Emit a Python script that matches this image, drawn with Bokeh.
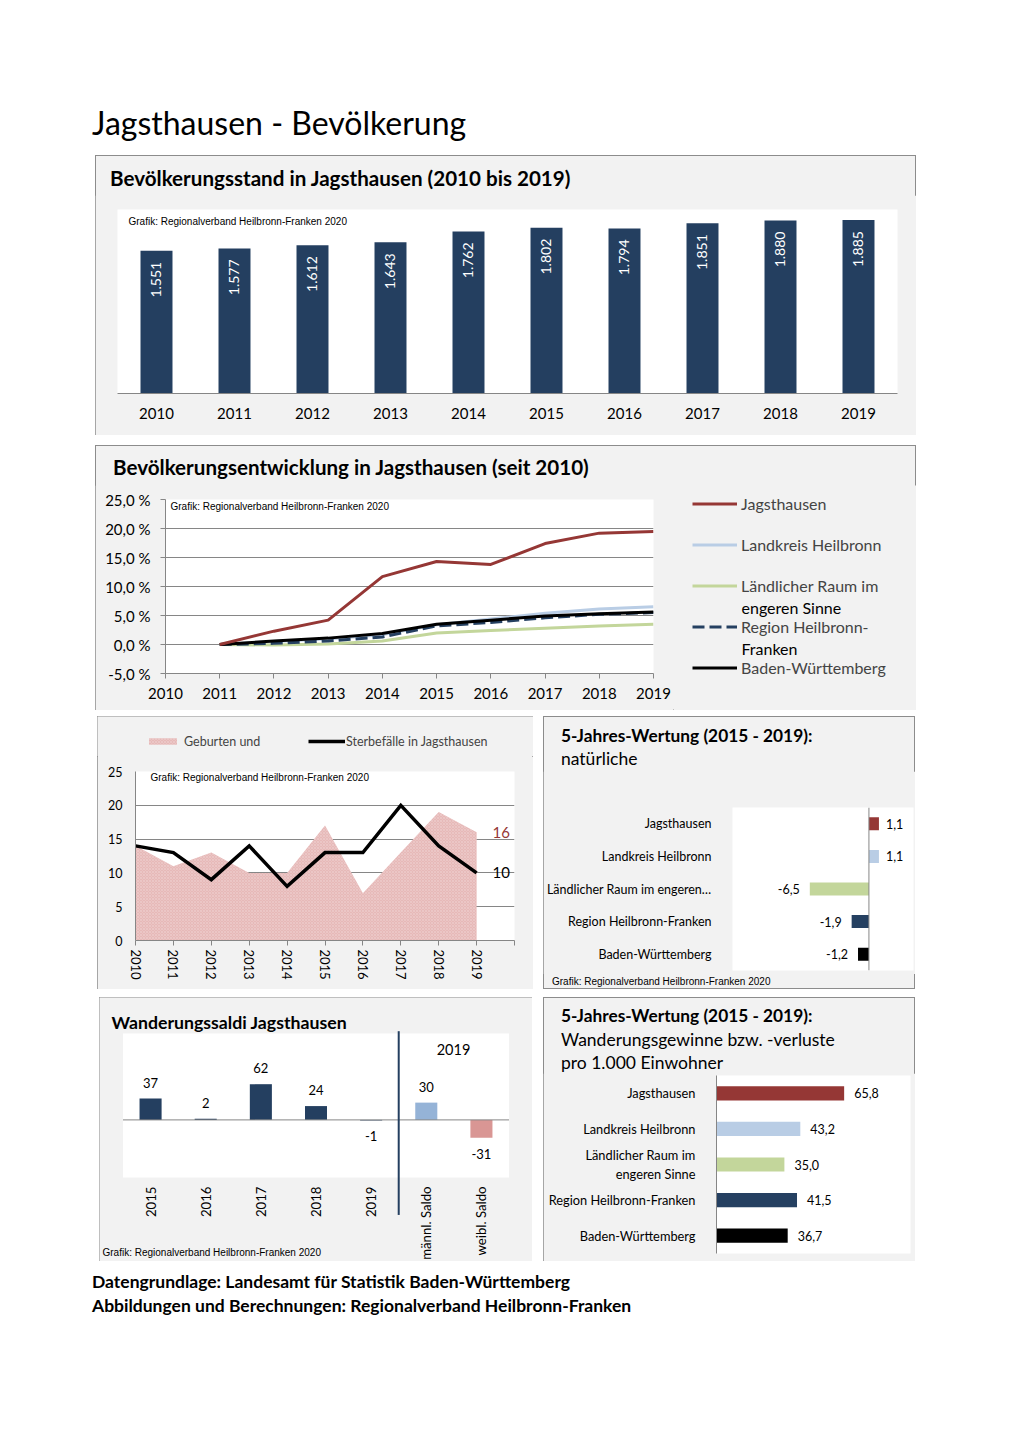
import math
from bokeh.plotting import figure
from bokeh.models import (ColumnDataSource, Label, LabelSet, Legend, LegendItem, BoxAnnotation,
                          FixedTicker, Range1d, FactorRange, Div, Spacer, Arrow, CategoricalAxis,
                          Span)
from bokeh.layouts import column, row
from bokeh.embed import file_html
from bokeh.resources import INLINE
from bokeh.core.properties import value

# ---------------- data ----------------
pop_years = ["2010", "2011", "2012", "2013", "2014", "2015", "2016", "2017", "2018", "2019"]
population = [1551, 1577, 1612, 1643, 1762, 1802, 1794, 1851, 1880, 1885]

dev_axis_years = [2010, 2011, 2012, 2013, 2014, 2015, 2016, 2017, 2018, 2019]
dev_years = [2011, 2012, 2013, 2014, 2015, 2016, 2017, 2018, 2019]
dev_jagsthausen = [0.0, 2.3, 4.2, 11.7, 14.3, 13.8, 17.4, 19.2, 19.5]
dev_landkreis = [0.0, 0.5, 1.0, 1.7, 3.4, 4.4, 5.4, 6.1, 6.5]
dev_laendlich = [0.0, -0.1, 0.1, 0.6, 2.0, 2.4, 2.8, 3.2, 3.5]
dev_region = [0.0, 0.2, 0.6, 1.3, 3.2, 3.8, 4.6, 5.2, 5.5]
dev_bw = [0.0, 0.6, 1.1, 1.9, 3.5, 4.2, 4.9, 5.3, 5.6]
dev_ticks = [-5, 0, 5, 10, 15, 20, 25]

nat_years = [2010, 2011, 2012, 2013, 2014, 2015, 2016, 2017, 2018, 2019]
nat_axis_years = [2010, 2011, 2012, 2013, 2014, 2015, 2016, 2017, 2018, 2019, 2020]
births = [14, 11, 13, 10, 10, 17, 7, 13, 19, 16]
deaths = [14, 13, 9, 14, 8, 13, 13, 20, 14, 10]
nat_ticks = [0, 5, 10, 15, 20, 25]

regions = ["Jagsthausen", "Landkreis Heilbronn", "Ländlicher Raum im engeren Sinne",
           "Region Heilbronn-Franken", "Baden-Württemberg"]
natural_5y = [1.1, 1.1, -6.5, -1.9, -1.2]
migration_5y = [65.8, 43.2, 35.0, 41.5, 36.7]

mig_categories = ["2015", "2016", "2017", "2018", "2019", "männl. Saldo", "weibl. Saldo"]
mig_values = [37, 2, 62, 24, -1, 30, -31]

# ---------------- styles ----------------
FONT = "Lato"
ARIAL = "Liberation Sans"
PANEL_BG = "#f2f2f2"
OUTLINE = {"outline": "1px solid #8c8c8c", "outline-offset": "-1px"}
GRID = "#868686"
NAVY = "#243f60"
RED = "#953735"
LBLUE = "#b9cde5"
GREEN = "#c3d69b"
DBLUE = "#254061"
PINK_AREA = dict(fill_color="#e6b9b8", hatch_pattern="x", hatch_color="#f3d9d8",
                 hatch_scale=3, hatch_weight=0.6, hatch_alpha=0.7)
region_colors = [RED, LBLUE, GREEN, DBLUE, "#000000"]
CREDIT = "Grafik: Regionalverband Heilbronn-Franken 2020"


def de(v):
    return f"{v:.1f}".replace(".", ",")


def make_fig(w, h, left=0, right=0, top=0, bottom=0, bg="white", **kw):
    p = figure(width=w, height=h, title=None, output_backend="svg", toolbar_location=None,
               tools="", min_border_left=left, min_border_right=right, min_border_top=top,
               min_border_bottom=bottom, background_fill_color=bg, border_fill_color=PANEL_BG,
               outline_line_color=None, frame_align=False, **kw)
    p.xgrid.visible = False
    p.ygrid.visible = False
    return p


def legend_fig(w, h):
    # a figure that only hosts a legend; its ranges keep the proxy glyphs out of view
    return make_fig(w, h, bg=PANEL_BG, x_range=Range1d(0, 1), y_range=Range1d(0, 1),
                    x_axis_location=None, y_axis_location=None)


def text_at(p, x, y, text, size, bold=False, color="black", font=FONT, align="left",
            baseline="middle"):
    p.add_layout(Label(x=x, y=y, x_units="canvas", y_units="canvas", text=text,
                       text_font=font, text_font_size=f"{size}px",
                       text_font_style="bold" if bold else "normal",
                       text_color=color, text_baseline=baseline, text_align=align))


def html_block(width, height, items, font="Lato", ascent=0.987):
    # items: (left, baseline, text, size, bold)
    parts = []
    for left, base, text, size, bold in items:
        top = base - ascent * size
        parts.append(
            f'<div style="position:absolute;left:{left}px;top:{top:.1f}px;font-family:{font};'
            f'font-size:{size}px;line-height:{1.2 * size:.2f}px;'
            f'font-weight:{"bold" if bold else "normal"};color:#000;white-space:nowrap;">'
            f'{text}</div>')
    html = (f'<div style="position:relative;width:{width}px;height:{height}px;">'
            + "".join(parts) + '</div>')
    return Div(text=html, width=width, height=height, margin=0)


def style_axis(ax, size, standoff, tick_out=0, line=GRID, ticks=None):
    ax.axis_line_color = line
    ax.major_tick_line_color = ticks
    ax.minor_tick_line_color = None
    ax.major_tick_out = tick_out
    ax.major_tick_in = 0
    ax.major_label_standoff = standoff
    ax.major_label_text_font = FONT
    ax.major_label_text_font_size = f"{size}px"
    ax.major_label_text_color = "black"


PANEL_STYLE = dict(OUTLINE, **{"background-color": PANEL_BG})

# ---------------- panel 1: population bars ----------------
t1 = html_block(821, 40, [(15, 31, "Bevölkerungsstand in Jagsthausen (2010 bis 2019)", 20.6, True)])
p1 = make_fig(821, 240, 22, 19, 14, 42, x_range=FactorRange(factors=pop_years),
              y_range=Range1d(0, 2000), y_axis_location=None)
src1 = ColumnDataSource(dict(year=pop_years, pop=population,
                             label=[f"{v:,}".replace(",", ".") for v in population]))
p1.vbar(x="year", top="pop", width=0.41, source=src1, fill_color=NAVY, line_color=None)
p1.add_layout(LabelSet(x="year", y="pop", text="label", source=src1, angle=math.pi / 2,
                       text_align="right", text_baseline="middle", y_offset=-11,
                       text_color="white", text_font=value(FONT), text_font_size="14px"))
style_axis(p1.xaxis[0], 15, 14)
text_at(p1, 33, 26, CREDIT, 10, font=ARIAL)
panel1 = column(t1, p1, styles=PANEL_STYLE)

# ---------------- panel 2: development lines ----------------
t2 = html_block(821, 40, [(18, 30, "Bevölkerungsentwicklung in Jagsthausen (seit 2010)", 20.6, True)])
p2 = make_fig(578, 225, 70, 20, 14, 37, x_range=Range1d(2010, 2019), y_range=Range1d(-5, 25))
p2.ygrid.visible = True
p2.ygrid.ticker = FixedTicker(ticks=dev_ticks)
p2.ygrid.grid_line_color = GRID
ya = p2.yaxis[0]
ya.ticker = FixedTicker(ticks=dev_ticks)
ya.major_label_overrides = {t: f"{t:.1f} %".replace(".", ",") for t in dev_ticks}
style_axis(ya, 15, 10, tick_out=5, ticks=GRID)
xa = p2.xaxis[0]
xa.ticker = FixedTicker(ticks=dev_axis_years)
xa.major_label_overrides = {y: str(y) for y in dev_axis_years}
style_axis(xa, 15, 9, tick_out=5, ticks=GRID)

line_styles = [dict(line_color=RED, line_width=3),
               dict(line_color=LBLUE, line_width=3),
               dict(line_color=GREEN, line_width=3),
               dict(line_color=DBLUE, line_width=3, line_dash="12 5"),
               dict(line_color="black", line_width=3)]
dev_series = [dev_jagsthausen, dev_landkreis, dev_laendlich, dev_region, dev_bw]
for i in [1, 2, 3, 4, 0]:
    p2.line(dev_years, dev_series[i], **line_styles[i])
text_at(p2, 75, 21, CREDIT, 10, font=ARIAL)

lg2 = legend_fig(243, 225)
first_line = {regions[2]: "Ländlicher Raum im", regions[3]: "Region Heilbronn-"}
second_line = {regions[2]: "engeren Sinne", regions[3]: "Franken"}
proxies = [lg2.line(dev_years, s, **st) for s, st in zip(dev_series, line_styles)]
lg2.add_layout(Legend(items=[LegendItem(label=first_line.get(n, n), renderers=[r])
                             for n, r in zip(regions, proxies)],
                      location=(19, 32), orientation="vertical", glyph_width=45, glyph_height=21,
                      label_height=21, spacing=20, label_standoff=4, padding=0, margin=0,
                      border_line_color=None, background_fill_alpha=0,
                      label_text_font=FONT, label_text_font_size="16px"))
text_at(lg2, 68, 122, second_line[regions[2]], 16)
text_at(lg2, 68, 163, second_line[regions[3]], 16)
panel2 = column(t2, row(p2, lg2), styles=PANEL_STYLE)

# ---------------- panel 3: births / deaths ----------------
lg3 = legend_fig(436, 40)
pa = lg3.varea(x=nat_years, y1=0, y2=births, **PINK_AREA)
pl = lg3.line(nat_years, deaths, line_color="black", line_width=3.5)
for lbl, rend, lx, gw, so in [("Geburten und", pa, 48, 35, 4),
                              ("Sterbefälle in Jagsthausen", pl, 211, 37, 1)]:
    lg3.add_layout(Legend(items=[LegendItem(label=lbl, renderers=[rend])], location=(lx, 7),
                          glyph_width=gw, glyph_height=8, label_height=16, label_standoff=so,
                          padding=0, margin=0, border_line_color=None, background_fill_alpha=0,
                          label_text_font=FONT, label_text_font_size="12.5px"))

p3 = make_fig(436, 233, 38, 19, 15, 49, x_range=Range1d(2010, 2020), y_range=Range1d(0, 25))
p3.ygrid.visible = True
p3.ygrid.ticker = FixedTicker(ticks=nat_ticks)
p3.ygrid.grid_line_color = GRID
p3.varea(x=nat_years, y1=0, y2=births, **PINK_AREA)
p3.line(nat_years, deaths, line_color="black", line_width=3.5, line_join="miter")
ya3 = p3.yaxis[0]
ya3.ticker = FixedTicker(ticks=nat_ticks)
style_axis(ya3, 12.5, 13)
xa3 = p3.xaxis[0]
xa3.ticker = FixedTicker(ticks=nat_axis_years)
xa3.major_label_overrides = {y: (str(y) if y in nat_years else "") for y in nat_axis_years}
xa3.major_label_orientation = "vertical"
style_axis(xa3, 13, 4, tick_out=5, ticks=GRID)
p3.add_layout(Label(x=nat_years[-1], y=births[-1], text=str(births[-1]), x_offset=16,
                    text_color=RED, text_font=FONT, text_font_size="15px", text_baseline="middle"))
p3.add_layout(Label(x=nat_years[-1], y=deaths[-1], text=str(deaths[-1]), x_offset=16,
                    text_color="black", text_font=FONT, text_font_size="15px",
                    text_baseline="middle"))
text_at(p3, 53, 21, CREDIT, 10, font=ARIAL)
panel3 = column(lg3, p3, styles=PANEL_STYLE)

# ---------------- panel 4: natural balance 5 years ----------------
short_names = {regions[2]: "Ländlicher Raum im engeren…"}
nat_factors = [short_names.get(r, r) for r in regions]
t4 = html_block(372, 55, [(18, 27.3, "5-Jahres-Wertung (2015 - 2019):", 17.3, True),
                          (18, 49.7, "natürliche", 17.5, False)])
p4 = make_fig(372, 203, 187, 2, 36, 4, x_range=Range1d(-15, 4.9),
              y_range=FactorRange(factors=list(reversed(nat_factors))), x_axis_location=None)
src4 = ColumnDataSource(dict(region=nat_factors, val=natural_5y, color=region_colors))
p4.hbar(y="region", left=0, right="val", height=0.4, fill_color="color", line_color=None,
        source=src4)
p4.add_layout(Span(location=0, dimension="height", line_color=GRID, line_width=1))
pos4 = ColumnDataSource(dict(region=[r for r, v in zip(nat_factors, natural_5y) if v >= 0],
                             val=[v for v in natural_5y if v >= 0],
                             label=[de(v) for v in natural_5y if v >= 0]))
neg4 = ColumnDataSource(dict(region=[r for r, v in zip(nat_factors, natural_5y) if v < 0],
                             val=[v for v in natural_5y if v < 0],
                             label=[de(v) for v in natural_5y if v < 0]))
p4.add_layout(LabelSet(x="val", y="region", text="label", source=pos4, x_offset=7,
                       text_align="left", text_baseline="middle", text_font=value(FONT),
                       text_font_size="12.5px", text_color="black"))
p4.add_layout(LabelSet(x="val", y="region", text="label", source=neg4, x_offset=-10,
                       text_align="right", text_baseline="middle", text_font=value(FONT),
                       text_font_size="12.5px", text_color="black"))
style_axis(p4.yaxis[0], 12.5, 21, line=None)
c4 = html_block(372, 15, [(9, 11.5, CREDIT, 10, False)], font="Liberation Sans", ascent=0.905)
panel4 = column(t4, p4, c4, styles=PANEL_STYLE)

# ---------------- panel 5: migration balances (frame = whole panel) ----------------
W5, H5 = 433, 264
wx0, wx1, wy0, wy1 = 23, 409, 36, 180          # white plot area inside the panel (px)
mig_lo, mig_hi = -100, 150
ppu = (wy1 - wy0) / (mig_hi - mig_lo)
ncat = len(mig_categories)
pad5 = (W5 * ncat / (wx1 - wx0) - ncat) / 2
p5 = make_fig(W5, H5, bg=PANEL_BG,
              x_range=FactorRange(factors=mig_categories, range_padding=pad5,
                                  range_padding_units="absolute"),
              y_range=Range1d(mig_lo - (H5 - wy1) / ppu, mig_hi + wy0 / ppu),
              x_axis_location=None, y_axis_location=None)
p5.styles = OUTLINE
p5.add_layout(BoxAnnotation(left=0, right=ncat, bottom=mig_lo, top=mig_hi, fill_color="white",
                            fill_alpha=1, line_color=None, level="underlay"))
mig_colors = [NAVY] * 5 + ["#95b3d7", "#d99694"]
src5 = ColumnDataSource(dict(cat=mig_categories, val=mig_values, color=mig_colors))
p5.vbar(x="cat", top="val", width=0.4, fill_color="color", line_color=None, source=src5)
p5.add_layout(Arrow(end=None, x_start=0, y_start=0, x_end=ncat, y_end=0,
                    line_color=GRID, line_width=1))
lab5 = CategoricalAxis(fixed_location=mig_lo)
style_axis(lab5, 13.2, 9, line=None)
lab5.major_label_orientation = math.pi / 2
p5.add_layout(lab5, "below")
pos5 = ColumnDataSource(dict(cat=[c for c, v in zip(mig_categories, mig_values) if v >= 0],
                             val=[v for v in mig_values if v >= 0],
                             label=[str(v) for v in mig_values if v >= 0]))
neg5 = ColumnDataSource(dict(cat=[c for c, v in zip(mig_categories, mig_values) if v < 0],
                             val=[v for v in mig_values if v < 0],
                             label=[str(v) for v in mig_values if v < 0]))
p5.add_layout(LabelSet(x="cat", y="val", text="label", source=pos5, y_offset=16,
                       text_align="center", text_baseline="middle", text_font=value(FONT),
                       text_font_size="13px", text_color="black"))
p5.add_layout(LabelSet(x="cat", y="val", text="label", source=neg5, y_offset=-16,
                       text_align="center", text_baseline="middle", text_font=value(FONT),
                       text_font_size="13px", text_color="black"))
p5.add_layout(Arrow(end=None, x_start=5, y_start=154, x_end=5, y_end=-165,
                    line_color=NAVY, line_width=2))
text_at(p5, 12, 24.7, "Wanderungssaldi Jagsthausen", 17.7, bold=True, baseline="alphabetic")
text_at(p5, 354, 52, "2019", 14.5, align="center")
text_at(p5, 3, 255, CREDIT, 10, font=ARIAL)

# ---------------- panel 6: migration 5 years ----------------
wrapped = {regions[2]: "Ländlicher Raum im\nengeren Sinne"}
mig_factors = [wrapped.get(r, r) for r in regions]
t6 = html_block(372, 76, [(18, 26.3, "5-Jahres-Wertung (2015 - 2019):", 17.3, True),
                          (18, 49.7, "Wanderungsgewinne bzw. -verluste", 17.5, False),
                          (18, 72, "pro 1.000 Einwohner", 17.5, False)])
p6 = make_fig(372, 188, 173, 5, 2, 8, x_range=Range1d(0, 100),
              y_range=FactorRange(factors=list(reversed(mig_factors))), x_axis_location=None)
src6 = ColumnDataSource(dict(region=mig_factors, val=migration_5y, color=region_colors,
                             label=[de(v) for v in migration_5y]))
p6.hbar(y="region", left=0, right="val", height=0.4, fill_color="color", line_color=None,
        source=src6)
p6.add_layout(LabelSet(x="val", y="region", text="label", source=src6, x_offset=10,
                       text_align="left", text_baseline="middle", text_font=value(FONT),
                       text_font_size="12.5px", text_color="black"))
style_axis(p6.yaxis[0], 12.8, 21)
panel6 = column(t6, p6, styles=PANEL_STYLE)

# ---------------- page ----------------
header = html_block(1004, 155, [(92, 136, "Jagsthausen - Bevölkerung", 32, False)])
footer = html_block(1004, 70, [
    (92, 27, "Datengrundlage: Landesamt für Statistik Baden-Württemberg", 17.5, True),
    (92, 51, "Abbildungen und Berechnungen: Regionalverband Heilbronn-Franken", 17.5, True)])

layout = column(
    header,
    row(Spacer(width=95, height=280), panel1),
    Spacer(width=1, height=10),
    row(Spacer(width=95, height=265), panel2),
    Spacer(width=1, height=6),
    row(Spacer(width=97, height=273), panel3, Spacer(width=10, height=273), panel4),
    Spacer(width=1, height=8),
    row(Spacer(width=99, height=264), p5, Spacer(width=11, height=264), panel6),
    footer,
)

open("out.html", "w").write(file_html(layout, INLINE))
